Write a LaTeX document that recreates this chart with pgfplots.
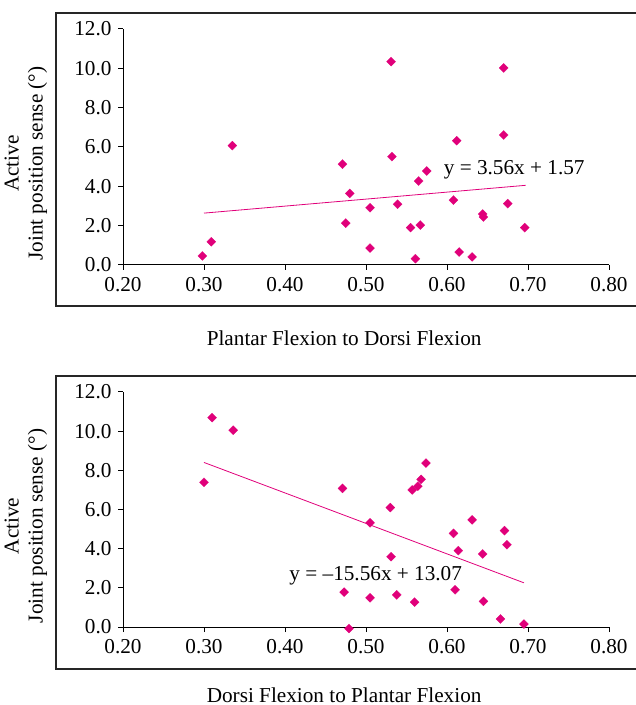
\documentclass[border=0pt]{standalone}
\usepackage{fontspec}
\setmainfont{Liberation Serif}
\usepackage{pgfplots}
\pgfplotsset{compat=1.18}
\definecolor{pts}{RGB}{224,0,122}

\pgfplotsset{
  jps/.style={
    scale only axis, width=486bp, height=236bp,
    xmin=0.2, xmax=0.8, ymin=0, ymax=12,
    axis x line*=bottom, axis y line*=left,
    axis line style={line width=1bp},
    xtick={0.2,0.3,0.4,0.5,0.6,0.7,0.8},
    ytick={0,2,4,6,8,10,12},
    tick align=outside, major tick length=5bp,
    tick style={line width=1bp, black},
    /pgf/number format/assume math mode=true,
    xticklabel style={/pgf/number format/.cd, fixed, fixed zerofill, precision=2},
    yticklabel style={/pgf/number format/.cd, fixed, fixed zerofill, precision=1},
    xticklabel shift=4bp, yticklabel shift=3bp,
    ylabel={Active\\Joint position sense (°)},
    ylabel style={at={(axis description cs:-0.2,0.43)}, anchor=center, align=center},
    clip=false,
    anchor=south west,
  },
  pts/.style={only marks, mark=square*, mark size=3.2bp,
    mark options={rotate=45, fill=pts, draw=pts, line width=0.2bp}},
  fit/.style={draw=pts, line width=0.8bp, no marks},
}

\begin{document}
\begin{tikzpicture}[font=\fontsize{21.3}{24}\selectfont]
\path[use as bounding box, clip] (0,0) rectangle (636bp,705bp);
\draw[black!85, line width=1.3bp] (56bp,692bp) rectangle (660bp,399bp);
\draw[black!85, line width=1.3bp] (56bp,329bp) rectangle (660bp,36bp);

% top: plantar -> dorsi flexion
\begin{axis}[jps, at={(123bp,440bp)},
    xlabel={Plantar Flexion to Dorsi Flexion},
    xlabel style={at={(axis description cs:0.455,-0.309)}, anchor=center}]
\addplot[pts] coordinates {
  (0.298,0.46) (0.309,1.18) (0.335,6.07) (0.471,5.13) (0.480,3.64)
  (0.475,2.13) (0.505,2.91) (0.505,0.86) (0.531,10.34) (0.670,10.02)
  (0.532,5.51) (0.612,6.32) (0.670,6.61) (0.575,4.78) (0.565,4.27)
  (0.539,3.09) (0.608,3.30) (0.675,3.12) (0.644,2.59) (0.645,2.44)
  (0.555,1.90) (0.567,2.03) (0.696,1.90) (0.615,0.66) (0.631,0.41)
  (0.561,0.32)
};
\addplot[fit] coordinates {(0.30,2.638) (0.697,4.051)};
\node at (axis cs:0.683,4.83) {y = 3.56x + 1.57};
\end{axis}

% bottom: dorsi -> plantar flexion
\begin{axis}[jps, at={(123bp,78bp)}, height=235bp,
    xlabel={Dorsi Flexion to Plantar Flexion},
    xlabel style={at={(axis description cs:0.455,-0.289)}, anchor=center}]
\addplot[pts] coordinates {
  (0.310,10.69) (0.336,10.05) (0.300,7.39) (0.471,7.08) (0.505,5.32)
  (0.473,1.78) (0.505,1.49) (0.479,-0.08) (0.574,8.37) (0.568,7.54)
  (0.564,7.19) (0.557,7.00) (0.530,6.10) (0.631,5.47) (0.671,4.92)
  (0.608,4.78) (0.674,4.20) (0.614,3.90) (0.644,3.73) (0.531,3.59)
  (0.538,1.64) (0.560,1.27) (0.610,1.90) (0.645,1.31) (0.666,0.41)
  (0.695,0.15)
};
\addplot[fit] coordinates {(0.30,8.402) (0.695,2.256)};
\node at (axis cs:0.512,2.64) {y = –15.56x + 13.07};
\end{axis}
\end{tikzpicture}
\end{document}
